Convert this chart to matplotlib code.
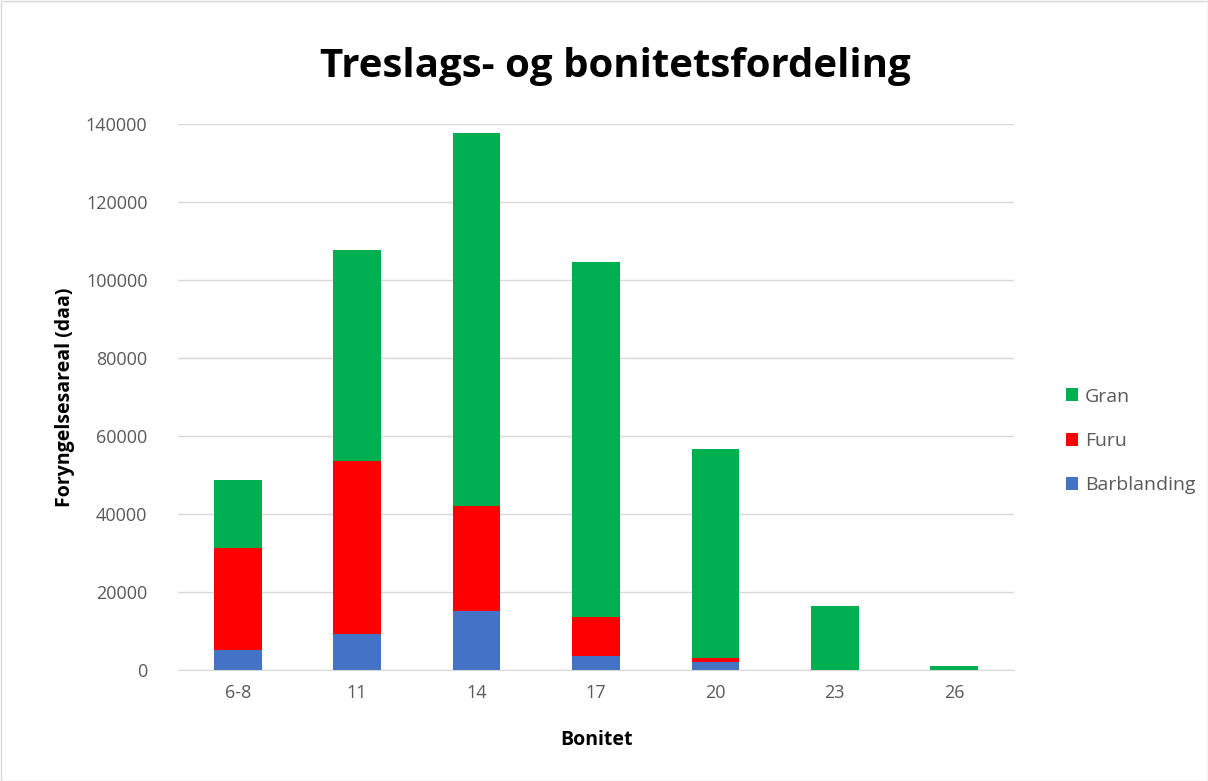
import numpy as np
import matplotlib
matplotlib.use("Agg")
from matplotlib import pyplot as plt
from matplotlib.patches import Rectangle

# data
bonitet = ["6-8", "11", "14", "17", "20", "23", "26"]
barblanding = [5100, 9200, 15100, 3700, 2100, 0, 0]
furu = [26200, 44400, 27000, 9900, 1100, 0, 0]
gran = [17500, 54200, 95600, 91000, 53500, 16400, 900]

plt.rcParams['font.family'] = ['Open Sans', 'DejaVu Sans']

fig = plt.figure(figsize=(12.08, 7.81), dpi=100)
ax = fig.add_axes([178/1208, 1 - 670/781, (1014-178)/1208, (670-124)/781])

x = np.arange(len(bonitet))
b1 = np.array(barblanding)
b2 = np.array(furu)
b3 = np.array(gran)
w = 0.4
ax.bar(x, b1, w, color='#4472C4', label='Barblanding', zorder=3)
ax.bar(x, b2, w, bottom=b1, color='#FF0000', label='Furu', zorder=3)
ax.bar(x, b3, w, bottom=b1 + b2, color='#00B050', label='Gran', zorder=3)

ax.set_xlim(-0.5, len(bonitet) - 0.5)
ax.set_ylim(0, 140000)
ax.set_yticks(np.arange(0, 140001, 20000))
ax.set_xticks(x)
ax.set_xticklabels(bonitet)
ax.yaxis.grid(True, color='#D9D9D9', linewidth=1, zorder=0)
for s in ['top', 'right', 'left']:
    ax.spines[s].set_visible(False)
ax.spines['bottom'].set_color('#D9D9D9')
ax.tick_params(length=0, labelsize=13, colors='#595959', pad=10)
ax.tick_params(axis='y', pad=22)

ax.set_xlabel('Bonitet', fontsize=14, fontweight='bold', labelpad=20)
ax.set_ylabel('Foryngelsesareal (daa)', fontsize=14, fontweight='bold', labelpad=8)
fig.text(0.5 * (178 + 1052) / 1208, 1 - 66 / 781, 'Treslags- og bonitetsfordeling',
         ha='center', va='center', fontsize=29, fontweight='bold')

h, l = ax.get_legend_handles_labels()
leg = fig.legend(h[::-1], l[::-1], loc='center left', bbox_to_anchor=(1048/1208, 1 - 441/781),
                 frameon=False, fontsize=14, handlelength=0.65, handleheight=0.65,
                 handletextpad=0.35, labelspacing=1.35)
for t in leg.get_texts():
    t.set_color('#595959')

fig.patches.append(Rectangle((0.5/1208, 0.5/781), 1 - 1/1208, 1 - 1/781, transform=fig.transFigure,
                             fill=False, edgecolor='#D9D9D9', linewidth=1))

fig.savefig('out.png', dpi=100)
